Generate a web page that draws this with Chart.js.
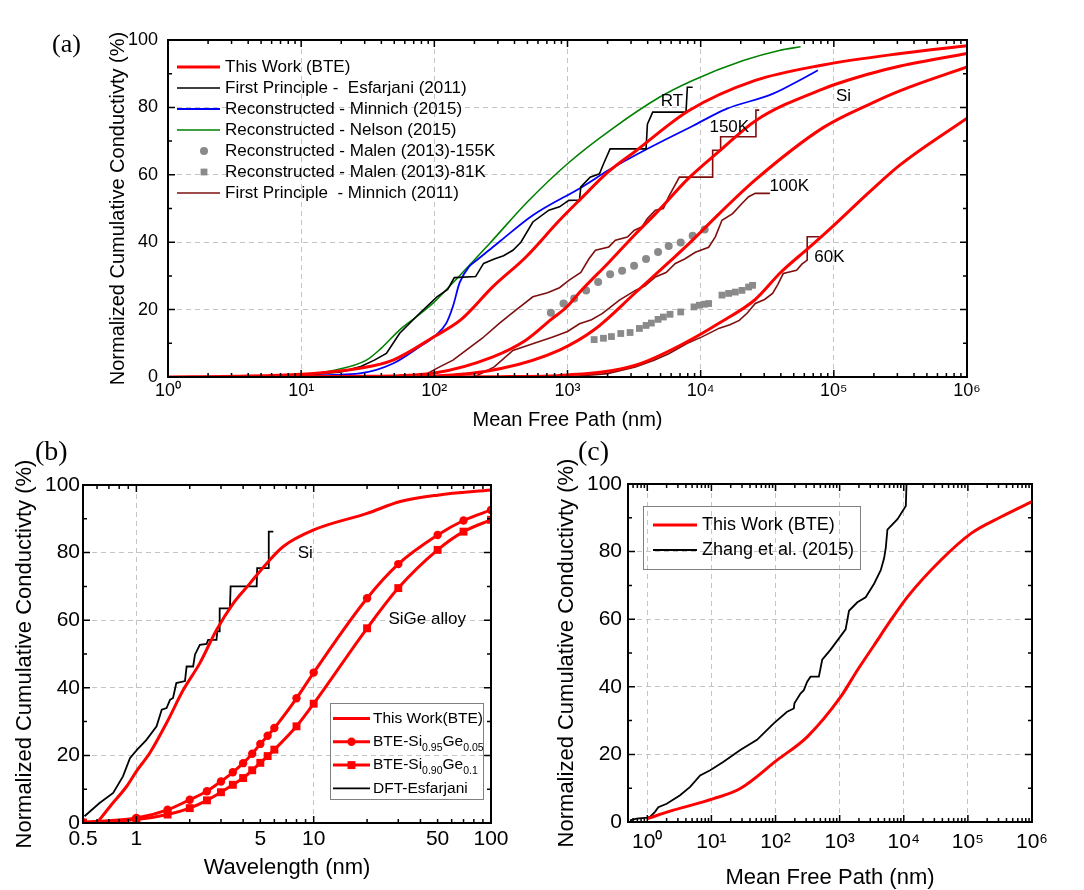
<!DOCTYPE html>
<html lang="en">
<head>
<meta charset="UTF-8">
<title>Cumulative thermal conductivity</title>
<script src="https://cdn.jsdelivr.net/npm/chart.js"></script>
<style>
  body { margin: 0; width: 1084px; height: 890px; background: #fff; overflow: hidden; position: relative; }
  .box { position: absolute; }
  .box canvas { display: block; }
  .tag { position: absolute; font-family: 'Liberation Serif', 'Times New Roman', serif; font-size: 26px; line-height: 26px; color: #000; }
</style>
</head>
<body>
<div class="box" style="left:0;top:0"><canvas id="chartA" width="1000" height="440"></canvas></div>
<div class="box" style="left:0;top:440px"><canvas id="chartB" width="540" height="450"></canvas></div>
<div class="box" style="left:540px;top:440px"><canvas id="chartC" width="544" height="450"></canvas></div>
<div class="tag" style="left:52px;top:31px">(a)</div>
<div class="tag" style="left:35px;top:437px;font-size:28px;line-height:28px">(b)</div>
<div class="tag" style="left:578px;top:437px;font-size:28px;line-height:28px">(c)</div>
<script>
// ---------- panel (a): x given as log10(mean free path / nm), y in %
const aRtExp  = [0.0, 0.5, 1.0, 1.44, 1.69, 2.0, 2.2, 2.44, 2.69, 2.94, 3.09, 3.31, 3.51, 3.91, 4.41, 4.92, 5.5, 6.0];
const aRtPct  = [0.0, 0.2, 0.8, 2.6, 5.0, 12.0, 17.0, 26.8, 35.7, 46.5, 52.5, 61.0, 67.0, 79.0, 88.0, 92.6, 96.0, 98.3];
const a150Exp = [0.5, 1.5, 2.0, 2.44, 2.69, 2.875, 3.0, 3.1, 3.31, 3.5, 3.66, 3.91, 4.14, 4.41, 4.92, 5.27, 5.5, 6.0];
const a150Pct = [0.0, 0.2, 1.2, 6.0, 11.0, 17.0, 21.0, 25.5, 34.0, 42.0, 48.4, 59.0, 67.0, 76.0, 85.5, 90.0, 92.3, 96.0];
const a100Exp = [1.0, 2.0, 2.5, 2.94, 3.2, 3.51, 3.76, 3.91, 4.14, 4.41, 4.92, 5.27, 5.5, 6.0];
const a100Pct = [0.0, 0.3, 2.5, 8.0, 14.0, 25.0, 34.0, 39.5, 48.5, 58.5, 74.0, 81.0, 85.0, 92.0];
const a60Exp  = [1.5, 2.5, 3.0, 3.51, 3.9, 4.14, 4.41, 4.6, 4.82, 5.0, 5.27, 5.5, 6.0];
const a60Pct  = [0.0, 0.1, 0.6, 3.5, 10.5, 16.0, 23.0, 31.0, 38.6, 45.0, 55.0, 63.0, 76.8];

const aEsfExp = [0.8, 1.0, 1.3, 1.44, 1.55, 1.64, 1.74, 1.89, 2.02, 2.1, 2.15, 2.31, 2.37, 2.45, 2.52, 2.59, 2.65, 2.74, 2.86, 2.94, 3.01, 3.09, 3.1, 3.17, 3.24, 3.27, 3.32, 3.59, 3.6, 3.64, 3.89, 3.9, 3.94];
const aEsfPct = [0.0, 0.5, 1.5, 3.0, 5.0, 7.0, 13.0, 18.9, 23.8, 26.0, 29.5, 29.8, 33.7, 35.0, 36.0, 37.6, 40.0, 46.0, 49.5, 50.5, 52.4, 52.5, 56.4, 59.3, 60.3, 63.2, 67.7, 67.7, 75.0, 78.6, 78.6, 86.0, 86.0];
const aMin15Exp = [0.0, 0.5, 1.0, 1.44, 1.69, 1.89, 2.0, 2.09, 2.14, 2.19, 2.26, 2.32, 2.41, 2.5, 2.74, 3.11, 3.31, 3.59, 3.94, 4.19, 4.54, 4.74, 4.88];
const aMin15Pct = [0.0, 0.2, 0.5, 1.1, 4.0, 9.0, 12.0, 16.0, 21.0, 28.0, 32.7, 34.7, 37.6, 40.5, 48.0, 56.4, 61.4, 67.5, 74.5, 79.5, 84.0, 88.0, 91.0];
const aNelExp = [0.5, 1.0, 1.25, 1.49, 1.6, 1.74, 1.87, 2.0, 2.2, 2.415, 2.7, 3.015, 3.32, 3.69, 3.94, 4.32, 4.59, 4.75];
const aNelPct = [0.0, 0.5, 2.0, 5.0, 8.5, 14.0, 18.0, 22.3, 30.5, 39.6, 52.0, 63.8, 73.2, 83.0, 88.0, 93.9, 96.9, 98.0];

const aMalen155Exp = [2.875, 2.97, 3.05, 3.14, 3.23, 3.32, 3.41, 3.50, 3.59, 3.68, 3.76, 3.85, 3.94, 4.03];
const aMalen155Pct = [19.1, 21.8, 23.3, 25.7, 28.2, 30.5, 31.5, 33.0, 35.0, 37.1, 38.9, 39.9, 41.9, 43.8];
const aMalen81Exp = [3.20, 3.27, 3.33, 3.40, 3.47, 3.54, 3.59, 3.63, 3.68, 3.72, 3.77, 3.85, 3.95, 3.99, 4.03, 4.06, 4.16, 4.21, 4.26, 4.31, 4.36, 4.39];
const aMalen81Pct = [11.1, 11.5, 12.0, 12.9, 13.2, 14.4, 15.3, 16.0, 17.1, 17.8, 18.6, 19.3, 20.8, 21.3, 21.6, 21.8, 24.3, 24.8, 25.2, 25.7, 26.7, 27.2];

const aM150Exp = [1.9, 2.04, 2.14, 2.24, 2.36, 2.49, 2.6, 2.74, 2.85, 2.94, 3.01, 3.1, 3.16, 3.21, 3.31, 3.36, 3.45, 3.5, 3.56, 3.6, 3.66, 3.72, 3.76, 3.84, 4.09, 4.09, 4.15, 4.15, 4.415, 4.415, 4.44];
const aM150Pct = [0.0, 3.0, 5.0, 8.0, 11.5, 16.0, 19.5, 23.8, 25.0, 26.5, 28.7, 31.0, 35.0, 37.6, 38.6, 40.6, 41.5, 43.5, 44.6, 47.0, 49.5, 50.0, 53.5, 59.3, 59.3, 67.3, 67.3, 71.3, 71.3, 79.2, 79.2];
const aM100Exp = [2.3, 2.45, 2.59, 2.75, 2.89, 3.0, 3.09, 3.18, 3.26, 3.39, 3.51, 3.58, 3.66, 3.74, 3.81, 3.88, 3.96, 4.06, 4.11, 4.16, 4.24, 4.31, 4.36, 4.41, 4.52];
const aM100Pct = [0.0, 3.0, 7.9, 10.0, 11.9, 13.5, 15.8, 17.0, 18.8, 22.8, 25.7, 27.0, 29.7, 31.0, 33.7, 35.0, 37.0, 38.5, 41.6, 46.5, 48.5, 51.5, 53.5, 54.5, 54.5];
const aM60Exp = [3.0, 3.3, 3.51, 3.65, 3.76, 3.9, 4.01, 4.14, 4.22, 4.29, 4.35, 4.41, 4.48, 4.54, 4.58, 4.62, 4.72, 4.76, 4.8, 4.8, 4.89];
const aM60Pct = [0.0, 1.0, 3.0, 5.0, 6.9, 10.0, 11.9, 14.5, 15.5, 16.8, 19.0, 21.8, 23.0, 24.8, 27.5, 30.7, 31.7, 33.5, 34.7, 41.6, 41.6];

// ---------- panel (b): wavelength in nm
const bSiNm  = [0.6, 0.71, 0.88, 1.0, 1.19, 1.48, 1.84, 2.28, 2.83, 3.52, 4.37, 5.43, 6.74, 10, 20, 30.8, 50, 100];
const bSiPct = [0.0, 4.9, 10.8, 15.3, 20.7, 29.6, 39.4, 47.3, 57.1, 65.0, 70.9, 76.8, 81.8, 86.7, 91.6, 95.1, 97.0, 98.5];
const bGeNm    = [0.5, 1, 1.5, 2, 2.5, 3, 3.5, 4, 4.5, 5, 5.5, 6, 8, 10, 20, 30, 50, 70, 100];
const bGe05Pct = [0.2, 1.5, 3.9, 6.9, 9.4, 12.3, 15.0, 17.7, 20.5, 23.4, 25.8, 28.1, 36.9, 44.5, 66.5, 76.6, 85.2, 89.5, 92.6];
const bGe10Pct = [0.1, 1.0, 2.5, 4.4, 6.7, 9.1, 11.3, 13.3, 15.6, 17.8, 19.8, 21.7, 28.6, 35.3, 57.6, 69.5, 80.8, 86.2, 89.7];
const bDftNm  = [0.51, 0.62, 0.74, 0.84, 0.92, 1.01, 1.14, 1.30, 1.39, 1.48, 1.55, 1.61, 1.68, 1.88, 1.92, 2.09, 2.14, 2.28, 2.49, 2.54, 2.83, 2.86, 2.93, 2.95, 3.37, 3.40, 4.77, 4.80, 5.55, 5.58, 5.92];
const bDftPct = [2.0, 5.9, 8.9, 13.8, 19.2, 21.7, 24.6, 28.6, 33.5, 34.0, 36.5, 37.0, 41.4, 42.0, 46.3, 46.3, 49.8, 52.7, 53.0, 54.2, 54.2, 56.7, 56.7, 63.5, 63.5, 70.0, 70.0, 75.4, 75.4, 86.2, 86.2];

// ---------- panel (c): log10(mean free path / nm)
const cBteExp = [0, 0.407, 1.033, 1.45, 2.024, 2.494, 3.015, 3.276, 3.537, 3.798, 4.058, 4.58, 5.05, 5.52, 6.0];
const cBtePct = [1.0, 3.5, 6.9, 9.9, 18.3, 25.2, 37.0, 44.9, 52.3, 59.7, 66.6, 77.5, 85.4, 90.3, 94.8];
const cZhangExp = [-0.271, -0.167, 0, 0.042, 0.12, 0.172, 0.303, 0.511, 0.668, 0.824, 0.981, 1.189, 1.45, 1.711, 1.972, 2.18, 2.285, 2.295, 2.389, 2.441, 2.494, 2.546, 2.676, 2.728, 2.859, 3.015, 3.093, 3.146, 3.276, 3.406, 3.537, 3.641, 3.693, 3.719, 3.745, 3.902, 4.032, 4.043, 4.24];
const cZhangPct = [0.5, 1.0, 1.3, 1.5, 3.0, 4.4, 5.4, 7.9, 10.4, 13.8, 15.3, 17.8, 21.3, 24.3, 29.2, 32.6, 33.6, 35.1, 38.0, 39.0, 41.5, 43.0, 43.0, 48.0, 51.0, 55.0, 57.0, 62.5, 65.0, 66.5, 70.5, 74.5, 78.0, 81.0, 86.5, 89.6, 93.5, 100, 100];

// ---------- helpers
const FONT = "'Liberation Sans', Arial, Helvetica, sans-serif";
const GRID = '#c4c4c4';
const NONE = 'rgba(0,0,0,0)';
const SUP = ['\u2070', '\u00b9', '\u00b2', '\u00b3', '\u2074', '\u2075', '\u2076'];
const RED = '#ff0000', DARKRED = '#7d0f0f', GRAY = '#8a8a8a';

const fromExp = (es, ps) => es.map((e, i) => ({ x: Math.pow(10, e), y: ps[i] }));
const fromNm = (xs, ps) => xs.map((x, i) => ({ x: x, y: ps[i] }));

function isDecade(v) { const l = Math.log10(v); return Math.abs(l - Math.round(l)) < 1e-6; }
function decadeLabel(v) { return isDecade(v) ? '10' + SUP[Math.round(Math.log10(v))] : ''; }

function logTicks(lo, hi) {
  const out = [];
  for (let e = -1; e <= 6; e++) {
    for (let m = 1; m <= 9; m++) {
      const v = +(m * Math.pow(10, e)).toPrecision(6);
      if (v >= lo - 1e-9 && v <= hi + 1e-9) out.push(v);
    }
  }
  return out;
}

function curve(data, color, width, smooth) {
  return { data, borderColor: color, backgroundColor: color, borderWidth: width, pointRadius: 0,
           fill: false, tension: 0, cubicInterpolationMode: smooth ? 'monotone' : 'default' };
}
function dots(data, color, style, r) {
  return { data, showLine: false, pointStyle: style, pointRadius: r, backgroundColor: color,
           borderColor: color, borderWidth: 0 };
}
function markedCurve(data, color, style, r) {
  return { data, borderColor: color, backgroundColor: color, borderWidth: 3, pointStyle: style,
           pointRadius: r, pointBorderWidth: 0, fill: false, cubicInterpolationMode: 'monotone' };
}

function pctAxis(width, size, pad, titleSize) {
  return {
    type: 'linear', min: 0, max: 100,
    afterBuildTicks: s => { const t = []; for (let v = 0; v <= 100; v += 10) t.push({ value: v }); s.ticks = t; },
    afterFit: s => { s.width = width; },
    ticks: { autoSkip: false, padding: pad, color: '#000', font: { family: FONT, size: size },
             callback: v => (v % 20 === 0 ? String(v) : '') },
    grid: { drawTicks: false, lineWidth: 1,
            color: c => (c.tick && c.tick.value % 20 === 0 && c.tick.value > 0 && c.tick.value < 100) ? GRID : NONE },
    border: { display: false, dash: [5, 4] },
    title: { display: true, text: 'Normalized Cumulative Conductivty (%)', color: '#000', padding: 0,
             font: { family: FONT, size: titleSize, lineHeight: 1 } }
  };
}

function logAxis(lo, hi, height, size, pad, titleSize, label, gridAt) {
  return {
    type: 'logarithmic', min: lo, max: hi,
    afterBuildTicks: s => { s.ticks = logTicks(lo, hi).map(v => ({ value: v })); },
    afterFit: s => { s.height = height; },
    ticks: { autoSkip: false, maxRotation: 0, padding: pad, color: '#000', font: { family: FONT, size: size }, callback: label },
    grid: { drawTicks: false, lineWidth: 1, color: c => (c.tick && gridAt(c.tick.value)) ? GRID : NONE },
    border: { display: false, dash: [5, 4] },
    title: { display: true, text: '', color: '#000', padding: 0, font: { family: FONT, size: titleSize, lineHeight: 1 } }
  };
}

// axis frame with inward ticks on all four sides
function framePlugin(isMajorX) {
  return {
    id: 'frame',
    afterDraw(chart) {
      const { ctx, chartArea: a } = chart;
      const sx = chart.scales.x, sy = chart.scales.y;
      ctx.save();
      ctx.strokeStyle = '#000';
      ctx.lineWidth = 1.5;
      ctx.beginPath();
      sx.ticks.forEach(t => {
        const px = sx.getPixelForValue(t.value);
        const len = isMajorX(t.value) ? 7 : 4;
        ctx.moveTo(px, a.bottom); ctx.lineTo(px, a.bottom - len);
        ctx.moveTo(px, a.top); ctx.lineTo(px, a.top + len);
      });
      sy.ticks.forEach(t => {
        const py = sy.getPixelForValue(t.value);
        const len = t.value % 20 === 0 ? 7 : 4;
        ctx.moveTo(a.left, py); ctx.lineTo(a.left + len, py);
        ctx.moveTo(a.right, py); ctx.lineTo(a.right - len, py);
      });
      ctx.stroke();
      ctx.lineWidth = 2;
      ctx.strokeRect(a.left, a.top, a.width, a.height);
      ctx.restore();
    }
  };
}

function notesPlugin(notes, size) {
  return {
    id: 'notes',
    afterDatasetsDraw(chart) {
      const ctx = chart.ctx, sx = chart.scales.x, sy = chart.scales.y;
      ctx.save();
      ctx.fillStyle = '#000';
      ctx.font = size + 'px ' + FONT;
      ctx.textAlign = 'left';
      ctx.textBaseline = 'middle';
      notes.forEach(n => ctx.fillText(n.text, sx.getPixelForValue(n.x), sy.getPixelForValue(n.y)));
      ctx.restore();
    }
  };
}

function legendPlugin(cfg) {
  return {
    id: 'sketchLegend',
    afterDraw(chart) {
      const ctx = chart.ctx;
      ctx.save();
      if (cfg.box) {
        ctx.strokeStyle = '#808080';
        ctx.lineWidth = 1;
        ctx.strokeRect(cfg.box[0] + 0.5, cfg.box[1] + 0.5, cfg.box[2], cfg.box[3]);
      }
      cfg.items.forEach((it, i) => {
        const ds = chart.data.datasets[it.ds];
        const y = cfg.y0 + i * cfg.dy;
        const mid = it.mx || (cfg.x0 + cfg.x1) / 2;
        if (ds.showLine !== false) {
          ctx.strokeStyle = ds.borderColor;
          ctx.lineWidth = ds.borderWidth;
          ctx.beginPath(); ctx.moveTo(cfg.x0, y); ctx.lineTo(cfg.x1, y); ctx.stroke();
        }
        if (ds.pointRadius > 0) {
          ctx.fillStyle = ds.backgroundColor;
          const r = ds.pointRadius;
          if (ds.pointStyle === 'rect') {
            const h = r * Math.SQRT1_2;
            ctx.fillRect(mid - h, y - h, 2 * h, 2 * h);
          } else {
            ctx.beginPath(); ctx.arc(mid, y, r, 0, Math.PI * 2); ctx.fill();
          }
        }
        ctx.fillStyle = '#000';
        ctx.textAlign = 'left';
        ctx.textBaseline = 'middle';
        let x = cfg.tx;
        it.parts.forEach(p => {
          const sub = p[1] === 1;
          ctx.font = (sub ? cfg.sub : cfg.size) + 'px ' + FONT;
          ctx.fillText(p[0], x, sub ? y + cfg.size * 0.38 : y);
          x += ctx.measureText(p[0]).width;
        });
      });
      ctx.restore();
    }
  };
}

const common = {
  responsive: false, animation: false, devicePixelRatio: 1, events: [],
  plugins: { legend: { display: false }, tooltip: { enabled: false } }
};

// ---------- chart (a)
const axA = logAxis(1, 1e6, 53, 18, 3, 20, decadeLabel, v => isDecade(v) && v > 1 && v < 1e6);
axA.title.text = 'Mean Free Path (nm)';
new Chart(document.getElementById('chartA'), {
  type: 'line',
  data: { datasets: [
    curve(fromExp(aRtExp, aRtPct), RED, 3, true),
    curve(fromExp(a150Exp, a150Pct), RED, 3, true),
    curve(fromExp(a100Exp, a100Pct), RED, 3, true),
    curve(fromExp(a60Exp, a60Pct), RED, 3, true),
    curve(fromExp(aEsfExp, aEsfPct), '#000000', 1.6, false),
    curve(fromExp(aMin15Exp, aMin15Pct), '#0000ff', 1.8, true),
    curve(fromExp(aNelExp, aNelPct), '#008000', 1.6, true),
    dots(fromExp(aMalen155Exp, aMalen155Pct), GRAY, 'circle', 4),
    dots(fromExp(aMalen81Exp, aMalen81Pct), GRAY, 'rect', 4.8),
    curve(fromExp(aM150Exp, aM150Pct), DARKRED, 1.6, false),
    curve(fromExp(aM100Exp, aM100Pct), DARKRED, 1.6, false),
    curve(fromExp(aM60Exp, aM60Pct), DARKRED, 1.6, false)
  ] },
  options: Object.assign({}, common, {
    layout: { padding: { left: 108, top: 40, right: 33, bottom: 10 } },
    scales: { x: axA, y: pctAxis(60, 18, 10, 20) }
  }),
  plugins: [
    framePlugin(isDecade),
    notesPlugin([
      { text: 'RT', x: Math.pow(10, 3.70), y: 81.9 },
      { text: '150K', x: Math.pow(10, 4.066), y: 74.2 },
      { text: '100K', x: Math.pow(10, 4.516), y: 56.6 },
      { text: '60K', x: Math.pow(10, 4.853), y: 35.6 },
      { text: 'Si', x: Math.pow(10, 5.016), y: 83.3 }
    ], 17),
    legendPlugin({ x0: 177, x1: 220, tx: 225, y0: 67, dy: 21, size: 17, sub: 12, items: [
      { ds: 0, parts: [['This Work (BTE)']] },
      { ds: 4, parts: [['First Principle -  Esfarjani (2011)']] },
      { ds: 5, parts: [['Reconstructed - Minnich (2015)']] },
      { ds: 6, parts: [['Reconstructed - Nelson (2015)']] },
      { ds: 7, mx: 204, parts: [['Reconstructed - Malen (2013)-155K']] },
      { ds: 8, mx: 204, parts: [['Reconstructed - Malen (2013)-81K']] },
      { ds: 9, parts: [['First Principle  - Minnich (2011)']] }
    ] })
  ]
});

// ---------- chart (b)
const bLabels = [0.5, 1, 5, 10, 50, 100];
const axB = logAxis(0.5, 100, 56, 21, 4, 22,
  v => (bLabels.some(l => Math.abs(l - v) < 1e-9) ? String(v) : ''),
  v => Math.abs(v - 1) < 1e-9 || Math.abs(v - 10) < 1e-9);
axB.title.text = 'Wavelength (nm)';
new Chart(document.getElementById('chartB'), {
  type: 'line',
  data: { datasets: [
    curve(fromNm(bSiNm, bSiPct), RED, 3, true),
    markedCurve(fromNm(bGeNm, bGe05Pct), RED, 'circle', 4.2),
    markedCurve(fromNm(bGeNm, bGe10Pct), RED, 'rect', 5.6),
    curve(fromNm(bDftNm, bDftPct), '#000000', 1.8, false)
  ] },
  options: Object.assign({}, common, {
    layout: { padding: { left: 14, top: 45, right: 49, bottom: 11 } },
    scales: { x: axB, y: pctAxis(69, 21, 3, 22) }
  }),
  plugins: [
    framePlugin(v => isDecade(v)),
    notesPlugin([
      { text: 'Si', x: 8.13, y: 79.9 },
      { text: 'SiGe alloy', x: 26.4, y: 60.3 }
    ], 17),
    legendPlugin({ box: [330, 263, 153, 96], x0: 333, x1: 370, tx: 373, y0: 278.5, dy: 23.3, size: 15.5, sub: 10.5, items: [
      { ds: 0, parts: [['This Work(BTE)']] },
      { ds: 1, parts: [['BTE-Si'], ['0.95', 1], ['Ge'], ['0.05', 1]] },
      { ds: 2, parts: [['BTE-Si'], ['0.90', 1], ['Ge'], ['0.1', 1]] },
      { ds: 3, parts: [['DFT-Esfarjani']] }
    ] })
  ]
});

// ---------- chart (c)
const axC = logAxis(0.5, 1e6, 67, 21, 8, 22, decadeLabel, v => isDecade(v) && v < 1e6);
axC.title.text = 'Mean Free Path (nm)';
new Chart(document.getElementById('chartC'), {
  type: 'line',
  data: { datasets: [
    curve(fromExp(cBteExp, cBtePct), RED, 3, true),
    curve(fromExp(cZhangExp, cZhangPct), '#000000', 1.8, false)
  ] },
  options: Object.assign({}, common, {
    layout: { padding: { left: 16, top: 44, right: 52, bottom: 1 } },
    scales: { x: axC, y: pctAxis(72, 21, 6, 22) }
  }),
  plugins: [
    framePlugin(isDecade),
    legendPlugin({ box: [103, 66, 217, 63], x0: 113, x1: 157, tx: 162, y0: 85, dy: 25, size: 18, sub: 12, items: [
      { ds: 0, parts: [['This Work (BTE)']] },
      { ds: 1, parts: [['Zhang et al. (2015)']] }
    ] })
  ]
});
</script>
</body>
</html>
